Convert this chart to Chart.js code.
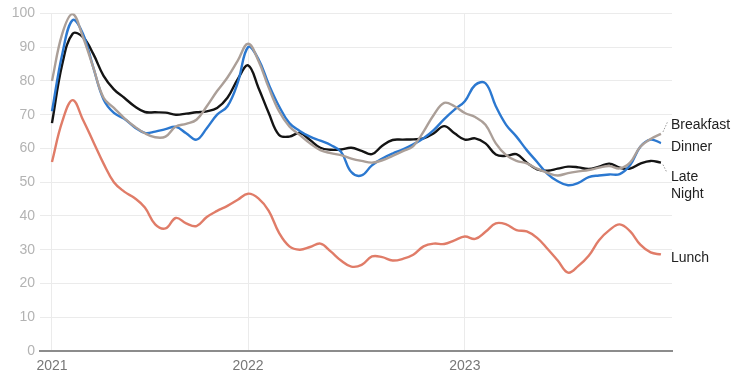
<!DOCTYPE html>
<html>
<head>
<meta charset="utf-8">
<script src="https://cdn.jsdelivr.net/npm/chart.js@4.4.1/dist/chart.umd.min.js"></script>
<style>
  body { margin: 0; background: #fff; }
</style>
</head>
<body>
<canvas id="myChart" width="750" height="375"></canvas>
<script>
// periods sampled evenly along the time axis, year ticks fall on these indices
const yearLabels = ['2021', '2022', '2023'];
const yearTickIndex = [0, 19, 40];

const seriesNames = ['Breakfast', 'Dinner', 'Late Night', 'Lunch'];

const breakfast = [80, 94, 99.8, 93, 84, 75, 72, 69, 66.5, 64.5,
  63.3, 63.5, 66.5, 67.3, 68.5, 72.5, 77, 81, 86, 91,
  86, 78, 71, 66.5, 64, 61.5, 59.5, 58.6, 58, 57,
  56.3, 55.8, 56.5, 57.8, 59.2, 60.7, 65, 70, 73.5, 72.5,
  70.5, 69.3, 67, 61.5, 58, 56.3, 55.6, 54, 52.8, 52,
  52.7, 53.2, 53.6, 54.3, 54.8, 54.1, 55.8, 60.5, 62.8, 64.3];

const dinner = [71, 88, 98, 94, 84, 74.5, 70.5, 68.8, 66.3, 64.6,
  65, 65.7, 66.4, 64.5, 62.6, 66, 70, 72.5, 79.5, 90,
  86.5, 79, 72.5, 67.5, 65.2, 63.5, 62.3, 61, 59, 53,
  52, 55, 57, 58.5, 59.7, 61.2, 63, 65.5, 68.7, 71.5,
  74, 78.8, 79.3, 72.5, 67, 63.5, 59.5, 56, 52.5, 50.3,
  49.1, 49.8, 51.5, 52, 52.3, 52.4, 55, 60.5, 62.6, 61.6];

const lateNight = [67.5, 85, 94, 93, 88, 81.5, 77.5, 75, 72.5, 70.8,
  70.7, 70.6, 70, 70.3, 70.7, 71, 72, 75, 80.5, 84.6,
  78, 70.5, 64, 63.5, 64.6, 62.5, 60.2, 59.6, 59.7, 60.2,
  59.3, 58.3, 60.8, 62.5, 62.6, 62.7, 63, 64.5, 66.6, 64.5,
  62.6, 63, 61.5, 58.2, 57.8, 58.3, 55.8, 53.8, 53.4, 54,
  54.6, 54.4, 53.9, 54.6, 55.5, 54.3, 54, 55.5, 56.3, 55.8];

const lunch = [56, 68, 74.3, 68.5, 62, 55.5, 50, 47.2, 45.3, 42.5,
  37.5, 36.3, 39.4, 37.8, 37, 39.7, 41.5, 43, 44.8, 46.6,
  45.2, 41.5, 35, 31, 30, 30.8, 31.8, 29.5, 26.8, 25,
  25.5, 28, 27.8, 26.8, 27.3, 28.5, 31, 31.8, 31.7, 32.8,
  33.9, 33.2, 35.3, 37.8, 37.5, 35.8, 35.4, 33.5, 30.3, 26.8,
  23.2, 25.2, 28.2, 32.8, 35.8, 37.5, 35.5, 31.5, 29.2, 28.6];

const yTicks = [0, 10, 20, 30, 40, 50, 60, 70, 80, 90, 100];

document.addEventListener('DOMContentLoaded', function() {
    const ctx = document.getElementById('myChart').getContext('2d');

    const toPoints = arr => arr.map((v, i) => ({ x: i, y: v }));
    const lastIndex = breakfast.length - 1;

    const colors = ['#ab9f98', '#2b78d0', '#141414', '#e07c68'];
    // vertical shift of each end label from its line end, in px
    const labelShift = [-9, 4, 15, 4];

    const data = {
        datasets: [breakfast, dinner, lateNight, lunch].map((arr, k) => ({
            label: seriesNames[k],
            data: toPoints(arr),
            borderColor: colors[k],
            borderWidth: 2.4,
            pointRadius: 0,
            tension: 0.4,
            fill: false
        }))
    };

    // end-of-line labels with the little dotted leaders
    const endLabels = {
        id: 'endLabels',
        afterDatasetsDraw(chart) {
            const c = chart.ctx;
            const right = chart.chartArea.right;
            c.save();
            c.font = '14px "Liberation Sans", Arial, sans-serif';
            c.fillStyle = '#222';
            c.textAlign = 'left';
            c.textBaseline = 'middle';
            chart.data.datasets.forEach((ds, k) => {
                const pt = chart.getDatasetMeta(k).data[lastIndex];
                const y = pt.y + labelShift[k];
                const lines = ds.label === 'Late Night' ? ['Late', 'Night'] : [ds.label];
                lines.forEach((t, j) => c.fillText(t, right - 1, y + j * 17));

                if (ds.label === 'Breakfast' || ds.label === 'Late Night') {
                    c.save();
                    c.strokeStyle = '#9a9a9a';
                    c.lineWidth = 1;
                    c.setLineDash([1.5, 1.5]);
                    c.beginPath();
                    if (ds.label === 'Breakfast') {
                        c.moveTo(pt.x + 2, pt.y - 2);
                        c.lineTo(pt.x + 7, pt.y - 13);
                    } else {
                        c.moveTo(pt.x + 2, pt.y + 2);
                        c.lineTo(pt.x + 6, pt.y + 10);
                    }
                    c.stroke();
                    c.restore();
                }
            });
            c.restore();
        }
    };

    const options = {
        responsive: false,
        animation: false,
        devicePixelRatio: 1,
        layout: { padding: { top: 9, right: 78, left: 0, bottom: 0 } },
        plugins: {
            legend: { display: false },
            tooltip: { enabled: false }
        },
        scales: {
            x: {
                type: 'linear',
                min: -1.16,
                max: 60.07,
                afterFit: s => { s.height = 24; },
                afterBuildTicks: s => { s.ticks = yearTickIndex.map(v => ({ value: v })); },
                ticks: {
                    autoSkip: false,
                    maxRotation: 0,
                    padding: 7,
                    color: '#777',
                    font: { size: 14, family: '"Liberation Sans", Arial, sans-serif' },
                    callback: v => yearLabels[yearTickIndex.indexOf(v)]
                },
                grid: { color: '#ebebeb', drawTicks: false },
                border: { color: '#8c8c8c', width: 2 }
            },
            y: {
                min: 0,
                max: 100,
                afterFit: s => { s.width = 40; },
                afterBuildTicks: s => { s.ticks = yTicks.map(v => ({ value: v })); },
                ticks: {
                    padding: 5,
                    color: '#b3b3b3',
                    font: { size: 14, family: '"Liberation Sans", Arial, sans-serif' }
                },
                grid: {
                    color: c => c.tick.value === 0 ? 'rgba(0,0,0,0)' : '#ebebeb',
                    drawTicks: false
                },
                border: { display: false }
            }
        }
    };

    new Chart(ctx, {
        type: 'line',
        data: data,
        options: options,
        plugins: [endLabels]
    });
});
</script>
</body>
</html>
